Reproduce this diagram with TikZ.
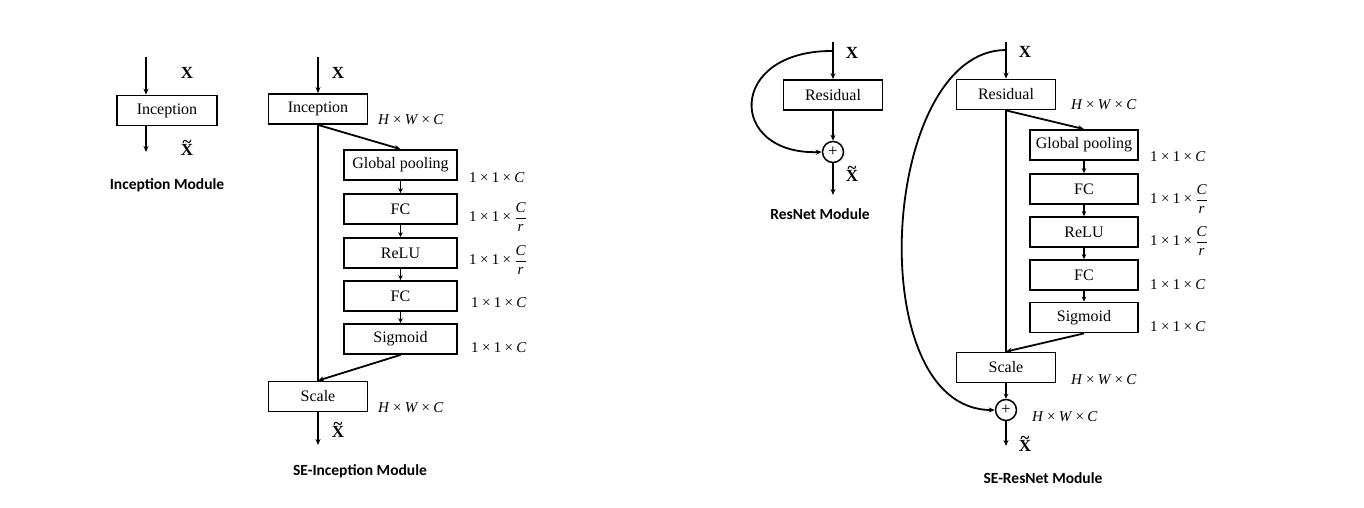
\documentclass[tikz,border=0pt]{standalone}
\usepackage{amsmath}
\usepackage{fontspec}
\setmainfont{Liberation Serif}
\newfontfamily\capfont{Carlito}
\usetikzlibrary{arrows.meta,calc}
\newcommand{\tms}{\hspace{0.22em}×\hspace{0.22em}}
\newcommand{\dimC}{1\tms 1\tms\textit{C}}
\newcommand{\dimCr}{1\tms 1\tms$\dfrac{\textit{C}}{\textit{r}}$}
\newcommand{\dimHWC}{\textit{H}\tms\textit{W}\tms\textit{C}}
\newcommand{\Xt}{\ooalign{X\cr\hidewidth\raisebox{0.5em}{\char"7E}\hidewidth\cr}}
\begin{document}
\begin{tikzpicture}[x=1pt,y=-1pt,
  every node/.style={inner sep=0pt},
  blk/.style={draw,line width=1.8pt,minimum height=30pt,font=\fontsize{16}{18}\selectfont},
  wide/.style={blk,minimum width=99pt},
  sub/.style={blk,minimum width=113pt},
  subr/.style={blk,minimum width=108pt},
  plus/.style={draw,circle,line width=1.5pt,minimum size=21pt,font=\fontsize{17}{18}\selectfont},
  ln/.style={line width=1.8pt},
  arr/.style={line width=1.8pt,-{Stealth[length=6pt,width=5pt]}},
  sarr/.style={line width=1.4pt,-{Stealth[length=5pt,width=4.5pt]}},
  xl/.style={font=\fontsize{17}{19}\selectfont\bfseries},
  dl/.style={anchor=west,font=\fontsize{15}{17}\selectfont},
  modcap/.style={font=\fontsize{15.5}{18}\selectfont\capfont\bfseries}]
\useasboundingbox (0,0) rectangle (1364,508);
% ---------------- Inception module
\coordinate (a_in) at (146,57);
\node[blk,minimum width=100pt] (a_inc) at (167,110.5) {Inception};
\coordinate (a_out) at (146,152);
\draw[arr] (a_in) -- (a_in|-a_inc.north);
\draw[arr] (a_out|-a_inc.south) -- (a_out);
\node[xl] (a_x) at (187,73) {X};
\node[xl] (a_xt) at (187,150) {\Xt};
\node[modcap] (a_cap) at (167,185) {Inception Module};
% ---------------- SE-Inception module
\coordinate (b_in) at (318,57);
\node[wide] (b_inc) at (318,109) {Inception};
\node[sub] (b_gp) at (400.5,165) {Global pooling};
\node[sub] (b_fc1) at (400.5,209) {FC};
\node[sub] (b_relu) at (400.5,253) {ReLU};
\node[sub] (b_fc2) at (400.5,296) {FC};
\node[sub] (b_sig) at (400.5,339) {Sigmoid};
\node[wide] (b_sc) at (318,396.5) {Scale};
\coordinate (b_out) at (318,445);
\draw[arr] (b_in) -- (b_inc.north);
\draw[ln] (b_inc.south) -- (b_sc.north);
\draw[arr] (b_inc.south) -- (b_gp.north);
\draw[sarr] (b_gp) -- (b_fc1);
\draw[sarr] (b_fc1) -- (b_relu);
\draw[sarr] (b_relu) -- (b_fc2);
\draw[sarr] (b_fc2) -- (b_sig);
\draw[arr] (b_sig.south) -- (b_sc.north);
\draw[arr] (b_sc.south) -- (b_out);
\node[xl] (b_x) at (338,73) {X};
\node[xl] (b_xt) at (338,432) {\Xt};
\node[dl] (b_d0) at (378,120) {\dimHWC};
\node[dl] (b_d1) at (469,178) {\dimC};
\node[dl] (b_d2) at (469,217) {\dimCr};
\node[dl] (b_d3) at (469,260) {\dimCr};
\node[dl] (b_d4) at (471,303) {\dimC};
\node[dl] (b_d5) at (471,348) {\dimC};
\node[dl] (b_d6) at (378,408) {\dimHWC};
\node[modcap] (b_cap) at (360,471) {SE-Inception Module};
% ---------------- ResNet module
\coordinate (c_in) at (833,42);
\coordinate (c_br) at (833,51);
\node[blk,minimum width=99pt] (c_res) at (833,95) {Residual};
\node[plus] (c_add) at (833,152) {+};
\coordinate (c_out) at (833,195);
\draw[arr] (c_in) -- (c_res.north);
\draw[arr] (c_res.south) -- (c_add.north);
\draw[arr] (c_add.south) -- (c_out);
\draw[arr] (c_br) .. controls (727,50) and (727,155) .. (c_add.west);
\node[xl] (c_x) at (852,53) {X};
\node[xl] (c_xt) at (852,176) {\Xt};
\node[modcap] (c_cap) at (820,214) {ResNet Module};
% ---------------- SE-ResNet module
\coordinate (d_in) at (1006,42);
\coordinate (d_br) at (1006,50);
\node[wide] (d_res) at (1006,94.5) {Residual};
\node[subr] (d_gp) at (1084,145) {Global pooling};
\node[subr] (d_fc1) at (1084,189) {FC};
\node[subr] (d_relu) at (1084,232) {ReLU};
\node[subr] (d_fc2) at (1084,275) {FC};
\node[subr] (d_sig) at (1084,317.5) {Sigmoid};
\node[wide] (d_sc) at (1006,367.5) {Scale};
\node[plus] (d_add) at (1006,410) {+};
\coordinate (d_out) at (1006,446);
\draw[arr] (d_in) -- (d_res.north);
\draw[ln] (d_res.south) -- (d_sc.north);
\draw[arr] (d_res.south) -- (d_gp.north);
\draw[sarr] (d_gp) -- (d_fc1);
\draw[sarr] (d_fc1) -- (d_relu);
\draw[sarr] (d_relu) -- (d_fc2);
\draw[sarr] (d_fc2) -- (d_sig);
\draw[arr] (d_sig.south) -- (d_sc.north);
\draw[sarr] (d_sc.south) -- (d_add.north);
\draw[arr] (d_add.south) -- (d_out);
\draw[arr] (d_br) .. controls (880,50) and (860,410) .. (d_add.west);
\node[xl] (d_x) at (1025,52) {X};
\node[xl] (d_xt) at (1025,446) {\Xt};
\node[dl] (d_d0) at (1071,105) {\dimHWC};
\node[dl] (d_d1) at (1150,157) {\dimC};
\node[dl] (d_d2) at (1150,199) {\dimCr};
\node[dl] (d_d3) at (1150,241) {\dimCr};
\node[dl] (d_d4) at (1150,285) {\dimC};
\node[dl] (d_d5) at (1150,327) {\dimC};
\node[dl] (d_d6) at (1071,380) {\dimHWC};
\node[dl] (d_d7) at (1032,417) {\dimHWC};
\node[modcap] (d_cap) at (1043,478) {SE-ResNet Module};
\end{tikzpicture}
\end{document}
